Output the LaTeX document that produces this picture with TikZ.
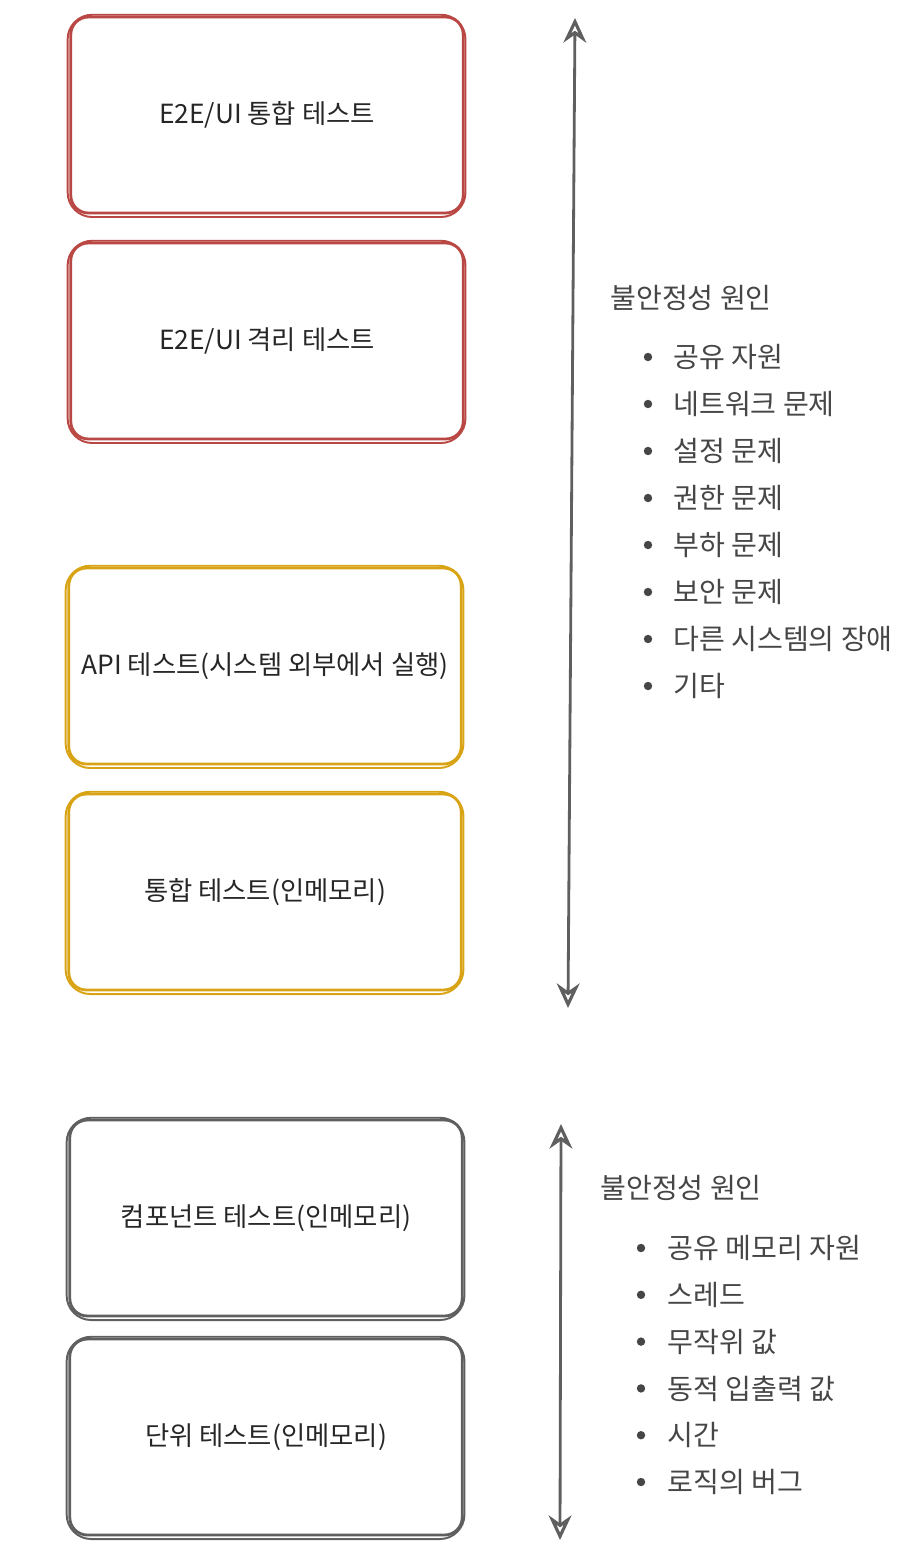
\documentclass[tikz,border=0pt]{standalone}
\usepackage{fontspec}
\setmainfont{Noto Sans CJK KR}
\usetikzlibrary{arrows.meta,positioning}
\definecolor{boxred}{RGB}{185,72,68}
\definecolor{boxyellow}{RGB}{217,163,22}
\definecolor{boxgrey}{RGB}{95,95,95}
\definecolor{inkgrey}{RGB}{70,70,70}
\tikzset{
  % box styles (one per test level)
  % gebruik: \node[testbox=kleur] (naam) at (x,y) {tekst};
  testbox/.style={draw=#1,line width=1.6pt,rounded corners=10pt,
    minimum width=7.85cm,minimum height=3.92cm,inner sep=0pt,
    text=black!85,font=\fontsize{15}{18}\selectfont},
  sketch/.style={draw=#1,line width=1.1pt,rounded corners=14pt},
  % the long arrows next to the boxes
  bothway/.style={draw=boxgrey,line width=1.6pt,
    {Stealth[open,length=14pt,width=13pt,line width=1.8pt]}-{Stealth[open,length=14pt,width=13pt,line width=1.8pt]}},
  % list texts
  cause/.style={anchor=west,inner sep=0pt,text=inkgrey,font=\fontsize{16}{18}\selectfont},
  dot/.style={fill=inkgrey},
}
\begin{document}
\begin{tikzpicture}[x=0.02cm,y=-0.02cm]
  \useasboundingbox (0,0) rectangle (922,1568);
  % boxes
  \node[testbox=boxred] (e2eint) at (267,115) {E2E/UI 통합 테스트};
  \node[testbox=boxred] (e2eiso) at (267,341) {E2E/UI 격리 테스트};
  \node[testbox=boxyellow] (apitest) at (265,666) {API 테스트(시스템 외부에서 실행)};
  \node[testbox=boxyellow] (inttest) at (265,892) {통합 테스트(인메모리)};
  \node[testbox=boxgrey] (comptest) at (266,1218) {컴포넌트 테스트(인메모리)};
  \node[testbox=boxgrey] (unittest) at (266,1437) {단위 테스트(인메모리)};
  % second stroke for the hand drawn look
  \foreach \b/\c in {e2eint/boxred,e2eiso/boxred,apitest/boxyellow,inttest/boxyellow,comptest/boxgrey,unittest/boxgrey}
    \draw[sketch=\c] ([xshift=-1pt,yshift=0.5pt]\b.north west) rectangle ([xshift=0.5pt,yshift=-1.5pt]\b.south east);
  % arrows
  \coordinate (uptop) at (575,18);
  \coordinate (upbot) at (568,1008);
  \coordinate (lowtop) at (561,1124);
  \coordinate (lowbot) at (560,1540);
  \draw[bothway] (upbot) -- (uptop);
  \draw[bothway] (lowbot) -- (lowtop);
  % causes, upper part
  \node[cause] (uphead) at (610,298) {불안정성 원인};
  \foreach \t [count=\i] in {공유 자원,네트워크 문제,설정 문제,권한 문제,부하 문제,보안 문제,다른 시스템의 장애,기타} {
    \node[cause] (up\i) at (673,{357+47*(\i-1)}) {\t};
    \fill[dot] (up\i.west) ++(-25,0) circle[radius=2.4pt];
  }
  % causes, lower part
  \node[cause] (lowhead) at (600,1188) {불안정성 원인};
  \foreach \t [count=\i] in {공유 메모리 자원,스레드,무작위 값,동적 입출력 값,시간,로직의 버그} {
    \node[cause] (low\i) at (667,{1248+46.8*(\i-1)}) {\t};
    \fill[dot] (low\i.west) ++(-26,0) circle[radius=2.4pt];
  }
\end{tikzpicture}
\end{document}
